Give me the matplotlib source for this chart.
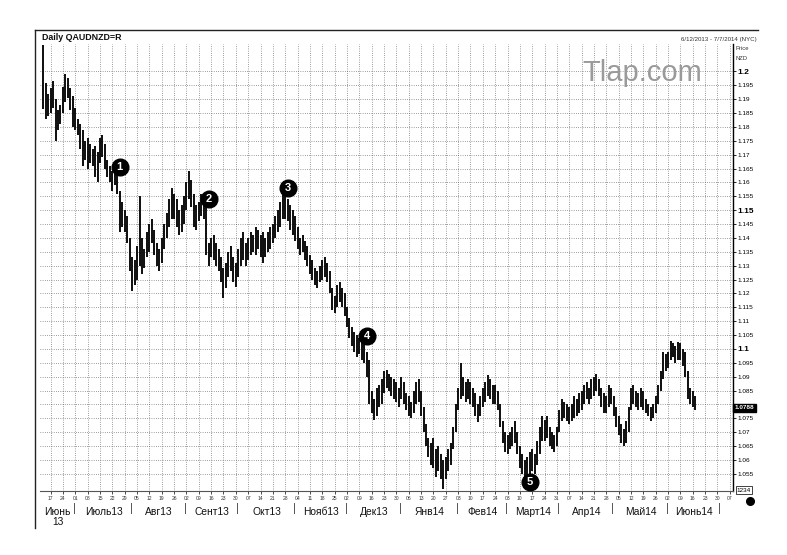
import numpy as np
import pandas as pd
import matplotlib
matplotlib.use("Agg")
import matplotlib.pyplot as plt
import matplotlib.transforms as mtransforms
from matplotlib.lines import Line2D

plt.rcParams['font.family'] = ['Liberation Sans', 'DejaVu Sans']

# daily bars (high / low), one row per week, 12 Jun 2013 .. 17 Jun 2014
highs = [
    1.2095, 1.1960, 1.1920,
    1.1940, 1.1965, 1.1900, 1.1860, 1.1880,
    1.1945, 1.1990, 1.1975, 1.1940, 1.1910,
    1.1870, 1.1830, 1.1810, 1.1790, 1.1750,
    1.1760, 1.1740, 1.1720, 1.1730, 1.1710,
    1.1760, 1.1770, 1.1740, 1.1680, 1.1660,
    1.1640, 1.1660, 1.1650, 1.1570, 1.1530,
    1.1500, 1.1480, 1.1400, 1.1330, 1.1320,
    1.1370, 1.1550, 1.1400, 1.1360, 1.1420,
    1.1450, 1.1470, 1.1430, 1.1380, 1.1360,
    1.1400, 1.1450, 1.1490, 1.1540, 1.1580,
    1.1560, 1.1540, 1.1500, 1.1520, 1.1550,
    1.1600, 1.1640, 1.1610, 1.1560, 1.1520,
    1.1530, 1.1560, 1.1540, 1.1520, 1.1380,
    1.1400, 1.1410, 1.1380, 1.1360, 1.1330,
    1.1290, 1.1310, 1.1350, 1.1370, 1.1330,
    1.1310, 1.1360, 1.1400, 1.1420, 1.1380,
    1.1400, 1.1420, 1.1410, 1.1440, 1.1430,
    1.1410, 1.1420, 1.1400, 1.1420, 1.1440,
    1.1450, 1.1480, 1.1500, 1.1530, 1.1560,
    1.1555, 1.1540, 1.1520, 1.1500, 1.1480,
    1.1440, 1.1400, 1.1410, 1.1390, 1.1370,
    1.1340, 1.1320, 1.1290, 1.1280, 1.1300,
    1.1320, 1.1330, 1.1310, 1.1280, 1.1220,
    1.1190, 1.1230, 1.1240, 1.1220, 1.1200,
    1.1150, 1.1110, 1.1080, 1.1060, 1.1050,
    1.1040, 1.1050, 1.1030, 1.0990, 1.0960,
    1.0850, 1.0820, 1.0860, 1.0870, 1.0890,
    1.0920, 1.0925, 1.0910, 1.0900, 1.0890,
    1.0880, 1.0860, 1.0900, 1.0880, 1.0840,
    1.0830, 1.0810, 1.0850, 1.0880, 1.0890,
    1.0850, 1.0790, 1.0730, 1.0680, 1.0660,
    1.0680, 1.0640, 1.0650, 1.0620, 1.0600,
    1.0610, 1.0640, 1.0660, 1.0720, 1.0800,
    1.0860, 1.0950, 1.0900, 1.0880, 1.0890,
    1.0880, 1.0860, 1.0840, 1.0800, 1.0830,
    1.0860, 1.0880, 1.0905, 1.0890, 1.0870,
    1.0870, 1.0850, 1.0800, 1.0740, 1.0700,
    1.0690, 1.0700, 1.0720, 1.0740, 1.0700,
    1.0650, 1.0620, 1.0600, 1.0610, 1.0630,
    1.0640, 1.0620, 1.0670, 1.0720, 1.0760,
    1.0745, 1.0760, 1.0720, 1.0700, 1.0690,
    1.0720, 1.0780, 1.0820, 1.0810, 1.0800,
    1.0790, 1.0800, 1.0830, 1.0820, 1.0840,
    1.0850, 1.0870, 1.0880, 1.0860, 1.0890,
    1.0900, 1.0910, 1.0890, 1.0860, 1.0840,
    1.0830, 1.0870, 1.0860, 1.0830, 1.0790,
    1.0760, 1.0730, 1.0710, 1.0740, 1.0790,
    1.0860, 1.0870, 1.0850, 1.0840, 1.0860,
    1.0850, 1.0820, 1.0800, 1.0790, 1.0800,
    1.0830, 1.0870, 1.0920, 1.0990, 1.0980,
    1.0990, 1.1030, 1.1020, 1.1010, 1.1025,
    1.1020, 1.1000, 1.0990, 1.0920, 1.0860,
    1.0850, 1.0830,
]
lows = [
    1.1865, 1.1830, 1.1840,
    1.1850, 1.1870, 1.1750, 1.1790, 1.1810,
    1.1850, 1.1890, 1.1905, 1.1860, 1.1800,
    1.1790, 1.1770, 1.1720, 1.1660, 1.1680,
    1.1650, 1.1670, 1.1660, 1.1620, 1.1600,
    1.1670, 1.1690, 1.1650, 1.1620, 1.1600,
    1.1570, 1.1590, 1.1560, 1.1420, 1.1440,
    1.1420, 1.1380, 1.1280, 1.1210, 1.1230,
    1.1250, 1.1300, 1.1270, 1.1290, 1.1330,
    1.1350, 1.1380, 1.1340, 1.1300, 1.1280,
    1.1310, 1.1360, 1.1400, 1.1440, 1.1470,
    1.1470, 1.1440, 1.1410, 1.1420, 1.1450,
    1.1500, 1.1540, 1.1510, 1.1440, 1.1430,
    1.1460, 1.1480, 1.1470, 1.1340, 1.1300,
    1.1330, 1.1320, 1.1300, 1.1280, 1.1240,
    1.1185, 1.1220, 1.1260, 1.1280, 1.1240,
    1.1225, 1.1260, 1.1300, 1.1320, 1.1300,
    1.1320, 1.1340, 1.1350, 1.1340, 1.1360,
    1.1330, 1.1310, 1.1330, 1.1350, 1.1360,
    1.1380, 1.1400, 1.1420, 1.1440, 1.1470,
    1.1470, 1.1460, 1.1430, 1.1410, 1.1390,
    1.1360, 1.1340, 1.1350, 1.1320, 1.1300,
    1.1270, 1.1250, 1.1230, 1.1220, 1.1240,
    1.1250, 1.1260, 1.1240, 1.1200, 1.1140,
    1.1130, 1.1150, 1.1170, 1.1150, 1.1120,
    1.1080, 1.1040, 1.1010, 1.0990, 1.0970,
    1.0980, 1.0960, 1.0950, 1.0900, 1.0800,
    1.0770, 1.0745, 1.0760, 1.0790, 1.0800,
    1.0840, 1.0860, 1.0850, 1.0830, 1.0820,
    1.0810, 1.0790, 1.0820, 1.0800, 1.0780,
    1.0760, 1.0750, 1.0770, 1.0800, 1.0810,
    1.0760, 1.0700, 1.0650, 1.0610, 1.0580,
    1.0570, 1.0540, 1.0560, 1.0530, 1.0495,
    1.0530, 1.0560, 1.0580, 1.0640, 1.0700,
    1.0780, 1.0820, 1.0830, 1.0810, 1.0820,
    1.0800, 1.0790, 1.0760, 1.0735, 1.0760,
    1.0790, 1.0810, 1.0830, 1.0820, 1.0800,
    1.0800, 1.0780, 1.0720, 1.0660, 1.0630,
    1.0620, 1.0640, 1.0650, 1.0660, 1.0620,
    1.0570, 1.0550, 1.0540, 1.0545, 1.0550,
    1.0560, 1.0550, 1.0580, 1.0620, 1.0670,
    1.0670, 1.0680, 1.0650, 1.0640, 1.0630,
    1.0650, 1.0700, 1.0740, 1.0750, 1.0740,
    1.0730, 1.0740, 1.0750, 1.0760, 1.0770,
    1.0780, 1.0800, 1.0820, 1.0800, 1.0820,
    1.0830, 1.0850, 1.0830, 1.0790, 1.0770,
    1.0770, 1.0790, 1.0800, 1.0760, 1.0720,
    1.0690, 1.0660, 1.0650, 1.0660, 1.0700,
    1.0780, 1.0800, 1.0790, 1.0780, 1.0790,
    1.0780, 1.0770, 1.0760, 1.0740, 1.0750,
    1.0770, 1.0800, 1.0850, 1.0890, 1.0920,
    1.0930, 1.0960, 1.0970, 1.0950, 1.0960,
    1.0960, 1.0940, 1.0900, 1.0820, 1.0800,
    1.0790, 1.0780,
]

first_day = "2013-06-12"
axis_end = "2014-07-07"
last_price = 1.0788

# wave count marks
wave_labels = ["1", "2", "3", "4", "5"]
wave_dates = ["2013-07-25", "2013-09-13", "2013-10-29", "2013-12-12", "2014-03-14"]
wave_prices = [1.1656, 1.1539, 1.1581, 1.1048, 1.0522]

month_names = ["Июнь\n13", "Июль13", "Авг13", "Сент13", "Окт13", "Нояб13", "Дек13",
               "Янв14", "Фев14", "Март14", "Апр14", "Май14", "Июнь14"]

price_ticks = np.round(np.arange(1.055, 1.2001, 0.005), 3)
big_ticks = [1.2, 1.15, 1.1]

W, H = 787, 555
fig = plt.figure(figsize=(W / 100, H / 100), dpi=100)
ax = fig.add_axes([40 / W, 1 - 491 / H, (733 - 40) / W, (491 - 44) / H])

days = pd.bdate_range(first_day, axis_end)
pos = np.arange(len(days))
n = len(highs)

ax.vlines(pos[:n], lows, highs, color="#0d0d0d", linewidth=1.4, zorder=3)

ax.set_xlim(-1.3, 279.3)
ax.set_ylim(1.0488, 1.2099)

# weekly ticks on mondays
mondays = pos[days.weekday == 0]
ax.set_xticks(mondays)
ax.set_xticklabels([days[i].strftime("%d") for i in mondays], fontsize=3.6, color="#333")
ax.tick_params(axis="x", length=2, width=0.5, pad=1.5, direction="out")

# price axis on the right; the last-price tag hides the label it sits on
ax.yaxis.tick_right()
ax.set_yticks(price_ticks)
ax.set_yticklabels(["" if abs(v - last_price) < 0.002 else f"{v:g}" for v in price_ticks])
ax.tick_params(axis="y", length=2.5, width=0.6, pad=1, labelsize=4.6)
for lab, v in zip(ax.get_yticklabels(), price_ticks):
    if v in big_ticks:
        lab.set_fontsize(6)
        lab.set_fontweight("bold")

ax.grid(True, color="#444", linewidth=0.5, linestyle=(0, (1, 2.2)))
ax.set_axisbelow(True)
for s in ["top", "left"]:
    ax.spines[s].set_visible(False)
ax.spines["right"].set_linewidth(1.0)
ax.spines["bottom"].set_linewidth(0.8)
ax.spines["bottom"].set_color("#555")

# month separators and names under the axis
trans = mtransforms.blended_transform_factory(ax.transData, ax.transAxes)
month_starts = [pos[days.to_period("M") == p][0] for p in days.to_period("M").unique()][1:]
edges = [ax.get_xlim()[0]] + month_starts
for x in month_starts:
    ax.plot([x - 0.5, x - 0.5], [-0.027, -0.05], transform=trans, color="#555",
            linewidth=0.7, clip_on=False)
for name, a, b in zip(month_names, edges[:-1], edges[1:]):
    ax.text((a + b) / 2, -0.036, name, transform=trans, ha="center", va="top",
            fontsize=7.4, color="#111", linespacing=0.95)

# wave marks
for lab, d, p in zip(wave_labels, wave_dates, wave_prices):
    x = pos[days == pd.Timestamp(d)][0]
    ax.plot(x, p, "o", markersize=12, color="black", zorder=5)
    ax.text(x, p, lab, ha="center", va="center", color="white", fontsize=8,
            fontweight="bold", zorder=6)

# last price tag
tag_trans = mtransforms.blended_transform_factory(ax.transAxes, ax.transData)
ax.text(1.002, last_price, f"{last_price:.4f}", transform=tag_trans, ha="left", va="center",
        color="white", fontsize=4.6, fontweight="bold", zorder=10,
        bbox=dict(boxstyle="square,pad=0.25", fc="black", ec="black"))

# frame and header
fig.add_artist(Line2D([35 / W, 758 / W], [1 - 30 / H, 1 - 30 / H], color="#222", linewidth=1.0))
fig.add_artist(Line2D([35 / W, 35 / W], [1 - 30 / H, 1 - 528 / H], color="#222", linewidth=1.0))
fig.text(42 / W, 1 - 37 / H, "Daily QAUDNZD=R", fontsize=6.4, fontweight="bold",
         va="center", color="#111")
fig.text(757 / W, 1 - 40 / H, "6/12/2013 - 7/7/2014 (NYC)", fontsize=4.4, ha="right",
         va="center", color="#333")
fig.text(736 / W, 1 - 49 / H, "Price", fontsize=4.2, va="center", color="#333")
fig.text(736 / W, 1 - 58 / H, "NZD", fontsize=4.2, va="center", color="#333")
fig.text(642 / W, 1 - 73 / H, "Tlap.com", fontsize=21, ha="center", va="center",
         color="#9a9a9a")
fig.text(744 / W, 1 - 490 / H, "1234", fontsize=4.6, ha="center", va="center",
         bbox=dict(boxstyle="square,pad=0.2", fc="white", ec="#222", lw=0.6))
fig.add_artist(Line2D([750 / W], [1 - 501 / H], marker="o", markersize=5.5,
                      color="black", linestyle="none"))

fig.savefig("out.png", dpi=100, facecolor="white")
